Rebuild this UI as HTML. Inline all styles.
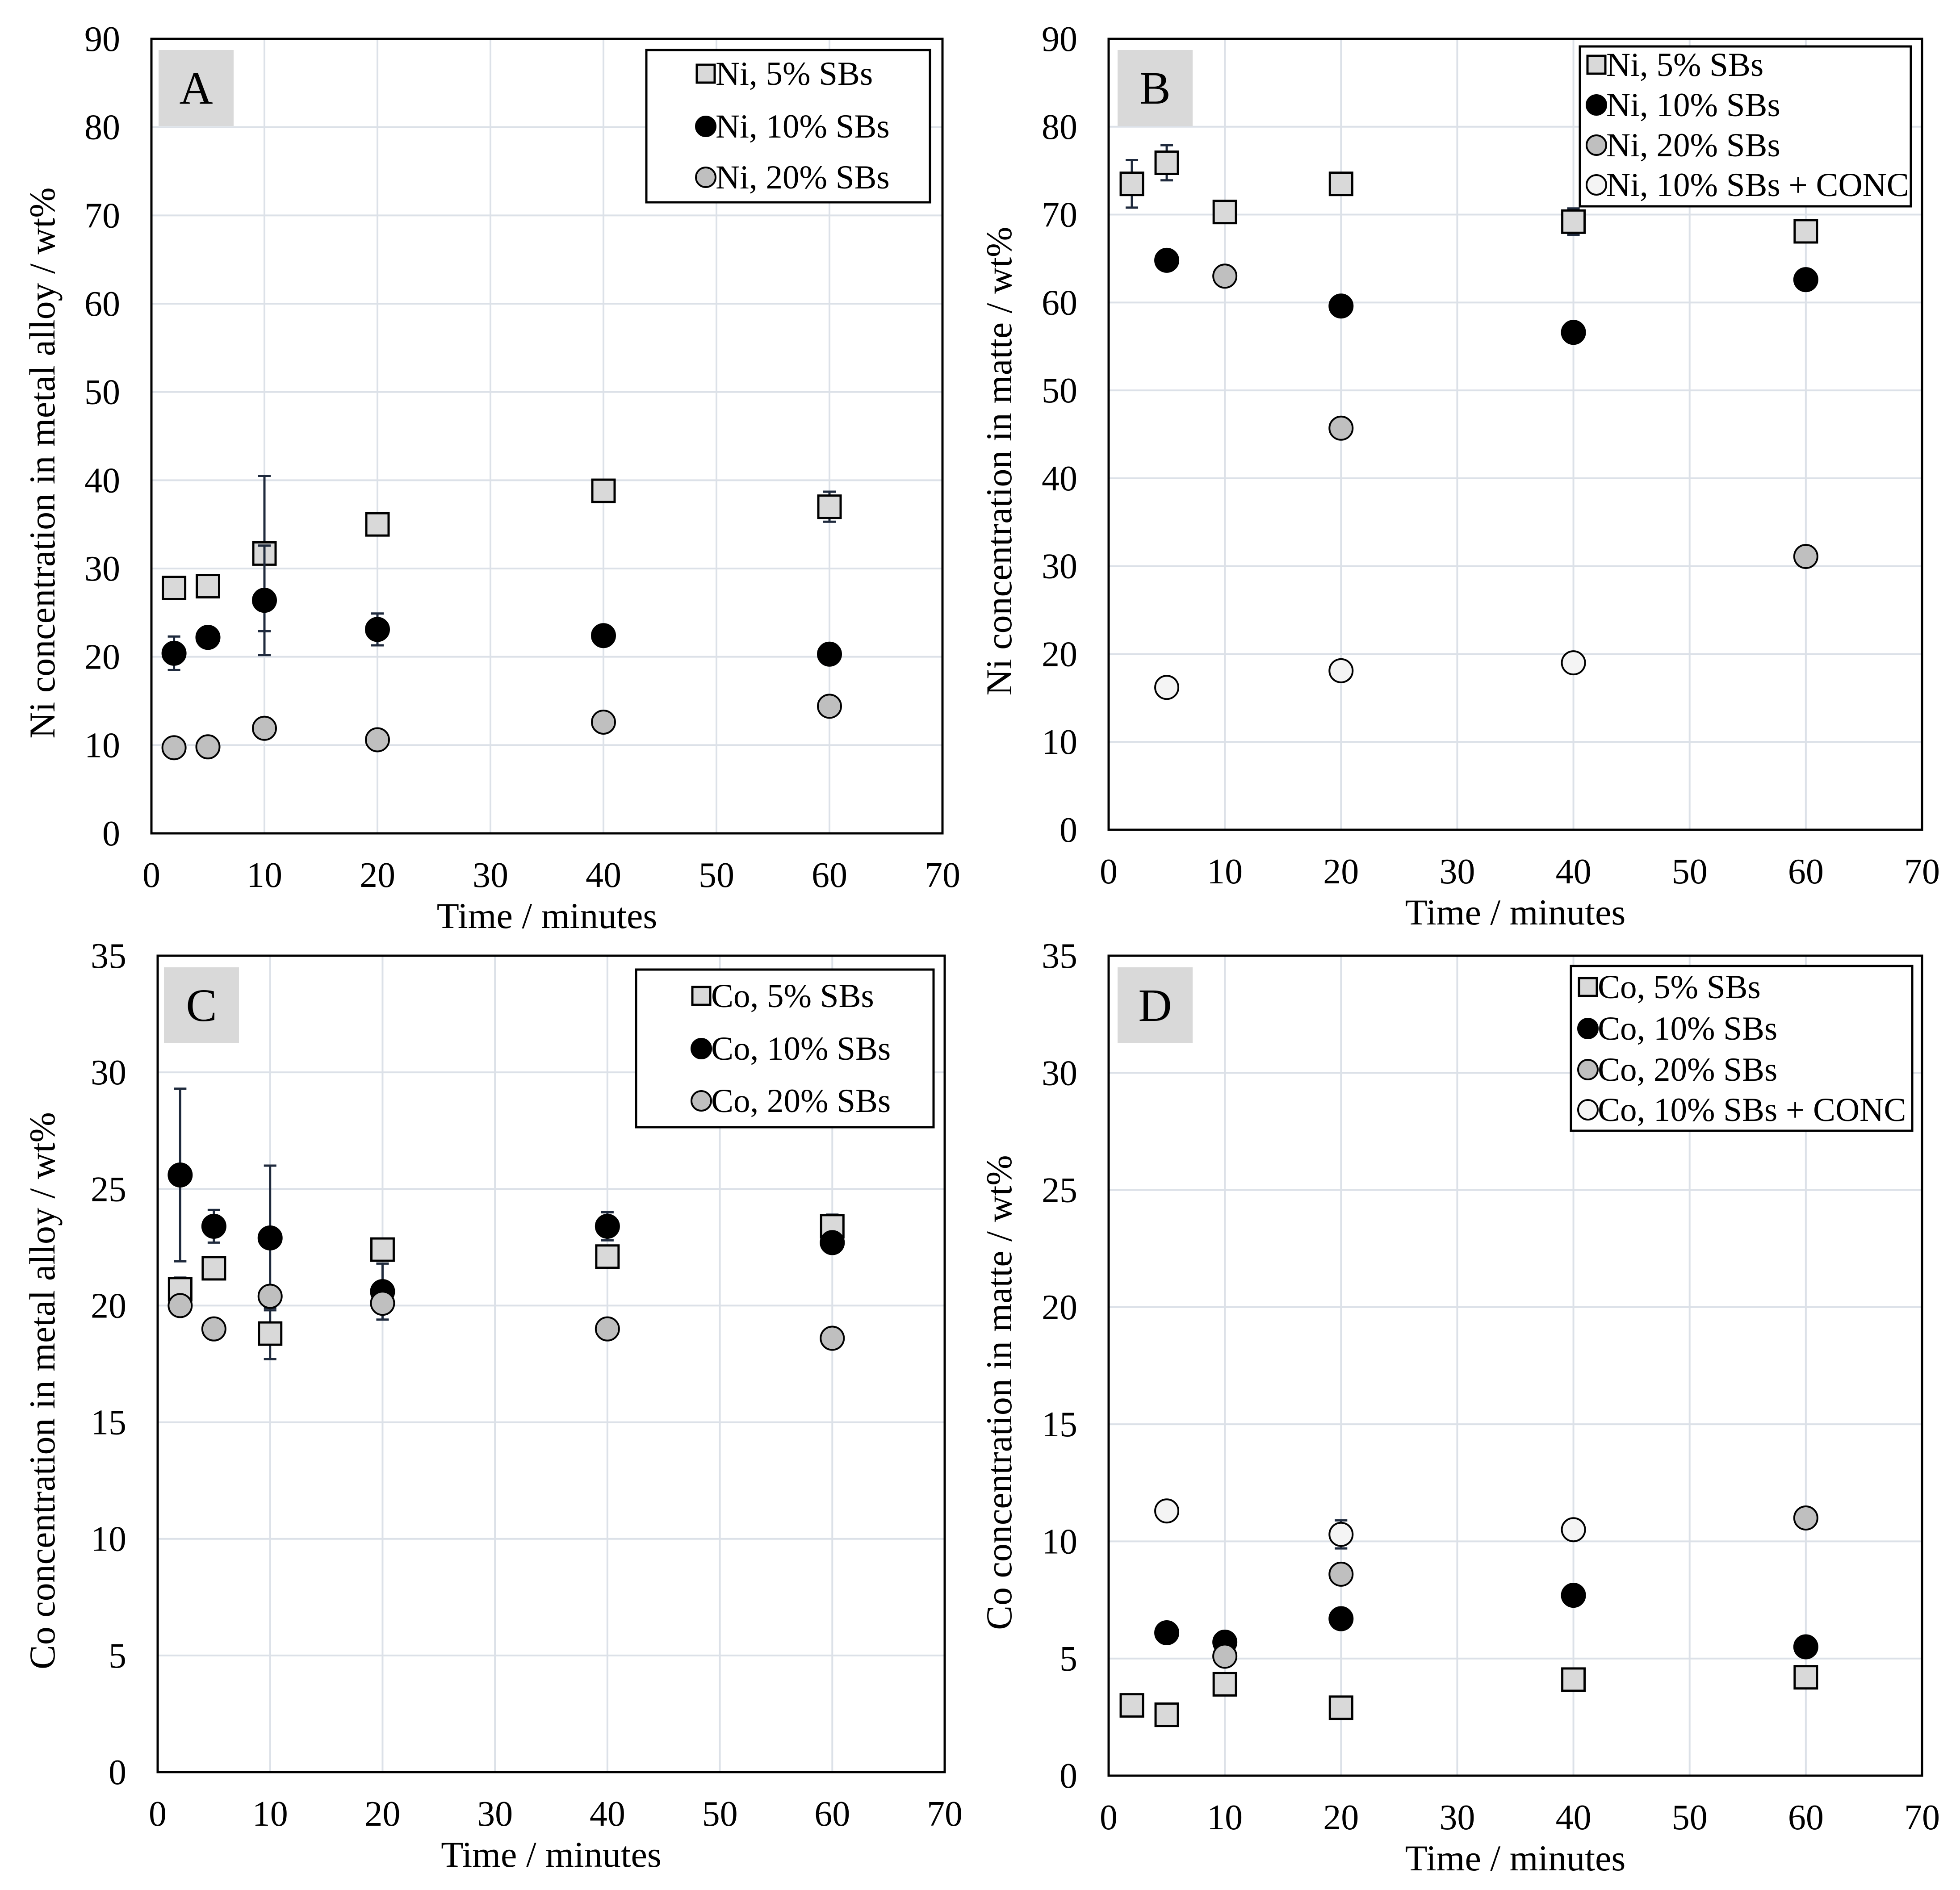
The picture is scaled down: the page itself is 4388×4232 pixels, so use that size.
<!DOCTYPE html>
<html><head><meta charset="utf-8">
<style>
body{margin:0;background:#fff;}
svg{display:block;font-family:"Liberation Serif","DejaVu Serif",serif;}
</style></head>
<body>
<svg id="chart" width="4388" height="4232" viewBox="0 0 4388 4232" xmlns="http://www.w3.org/2000/svg"></svg>
<script>
// ---- Data ----
const xTicks = [0,10,20,30,40,50,60,70];
const yTicksNi = [0,10,20,30,40,50,60,70,80,90];
const yTicksCo = [0,5,10,15,20,25,30,35];

// Panel A: Ni in metal alloy
const aX = [2,5,10,20,40,60];
const a5 = [27.8,28.0,31.7,35.0,38.8,37.0];
const a5err = [0,0,8.8,1.1,0.8,1.7];
const a10 = [20.4,22.2,26.4,23.1,22.4,20.3];
const a10err = [1.9,0,6.2,1.8,0,0];
const a20 = [9.7,9.8,11.9,10.6,12.6,14.4];

// Panel B: Ni in matte
const b5X = [2,5,10,20,40,60];
const b5 = [73.5,75.9,70.3,73.5,69.2,68.1];
const b5err = [2.7,2.0,0.8,0.6,1.5,0];
const b10X = [5,20,40,60];
const b10 = [64.8,59.6,56.6,62.6];
const b20X = [10,20,60];
const b20 = [63.0,45.7,31.1];
const bcX = [5,20,40];
const bc = [16.2,18.1,19.0];

// Panel C: Co in metal alloy
const cX = [2,5,10,20,40,60];
const c5 = [20.7,21.6,18.8,22.4,22.1,23.4];
const c5err = [0.5,0,1.1,0,0,0.5];
const c10 = [25.6,23.4,22.9,20.6,23.4,22.7];
const c10err = [3.7,0.7,3.1,1.2,0.6,0];
const c20 = [20.0,19.0,20.4,20.1,19.0,18.6];

// Panel D: Co in matte
const d5X = [2,5,10,20,40,60];
const d5 = [3.0,2.6,3.9,2.9,4.1,4.2];
const d10X = [5,10,20,40,60];
const d10 = [6.1,5.7,6.7,7.7,5.5];
const d20X = [10,20,60];
const d20 = [5.1,8.6,11.0];
const dcX = [5,20,40];
const dc = [11.3,10.3,10.5];
const dcErr = [0,0.6,0];

const NS = "http://www.w3.org/2000/svg";
const svg = document.getElementById('chart');
function mk(tag, attrs, parent){
  const e = document.createElementNS(NS, tag);
  for (const k in attrs) e.setAttribute(k, attrs[k]);
  (parent||svg).appendChild(e);
  return e;
}
const FILL = {sq:'#d9d9d9', blk:'#000', gry:'#bfbfbf', wht:'#f4f4f4'};

function marker(g, type, cx, cy, name){
  let e;
  if (type==='sq'){
    e = mk('rect',{x:cx-25,y:cy-25,width:50,height:50,fill:FILL.sq,stroke:'#000','stroke-width':5},g);
  } else {
    e = mk('circle',{cx:cx,cy:cy,r:26,fill:FILL[type],stroke:'#000','stroke-width':4},g);
  }
  
  
}

function panel(p){
  const g = mk('g',{});
  
  
  const sx = v => p.x0 + (v-0)/70*(p.x1-p.x0);
  const sy = v => p.y1 - v/p.ymax*(p.y1-p.y0);
  xTicks.forEach(t=>{ if(t>0&&t<70){ const l=mk('line',{x1:sx(t),x2:sx(t),y1:p.y0,y2:p.y1,stroke:'#dce1e8','stroke-width':4},g);
      }});
  p.yt.forEach(t=>{ if(t>0&&t<p.ymax){ const l=mk('line',{x1:p.x0,x2:p.x1,y1:sy(t),y2:sy(t),stroke:'#dce1e8','stroke-width':4},g);
      }});
  const fr = mk('rect',{x:p.x0,y:p.y0,width:p.x1-p.x0,height:p.y1-p.y0,fill:'none',stroke:'#000','stroke-width':5},g);
   
  xTicks.forEach(t=>{ const e=mk('text',{x:sx(t),y:p.y1+120,'font-size':80,'text-anchor':'middle'},g); e.textContent=t;
      });
  p.yt.forEach(t=>{ const e=mk('text',{x:p.x0-70,y:sy(t)+27,'font-size':80,'text-anchor':'end'},g); e.textContent=t;
      });
  const xt = mk('text',{x:(p.x0+p.x1)/2,y:p.y1+212,'font-size':82,'text-anchor':'middle'},g);
  xt.textContent='Time / minutes';
   
  const cy=(p.y0+p.y1)/2+60;
  const yt = mk('text',{x:p.ytx,y:cy,'font-size':82,'text-anchor':'middle',transform:`rotate(-90 ${p.ytx} ${cy})`},g);
  yt.textContent=p.ytitle;
   
  const lb = mk('rect',{x:p.lx,y:p.ly,width:168,height:170,fill:'#d9d9d9'},g);
   
  const lt = mk('text',{x:p.lx+84,y:p.ly+120,'font-size':104,'text-anchor':'middle'},g);
  lt.textContent=p.id;
   
  p.series.forEach(s=>{
    const sg = mk('g',{},g);
    
    
    s.xs.forEach((xv,i)=>{
      const e = s.err ? s.err[i] : 0;
      if (e>0){
        const X=sx(xv), top=sy(s.ys[i]+e), bot=sy(s.ys[i]-e);
        const eb = mk('path',{d:`M${X},${top}V${bot}M${X-14},${top}H${X+14}M${X-14},${bot}H${X+14}`,stroke:'#1f2a3d','stroke-width':5,fill:'none'},sg);
         
      }
    });
    s.xs.forEach((xv,i)=>marker(sg,s.type,sx(xv),sy(s.ys[i]),'point-'+s.key));
  });
  const L=p.leg;
  const lg = mk('g',{},g);
   
  mk('rect',{x:L.x,y:L.y,width:L.w,height:L.h,fill:'#fff',stroke:'#000','stroke-width':5},lg);
  p.series.forEach((s,i)=>{
    const ey=L.ys[i];
    const eg = mk('g',{},lg);
     
    const mx=L.mx;
    if(s.type==='sq') mk('rect',{x:mx-20,y:ey-20,width:40,height:40,fill:FILL.sq,stroke:'#000','stroke-width':5},eg);
    else mk('circle',{cx:mx,cy:ey,r:22,fill:FILL[s.type],stroke:'#000','stroke-width':4},eg);
    const t=mk('text',{x:mx+22,y:ey+25,'font-size':75},eg);
    t.textContent=s.label;
  });
}

panel({id:'A',x0:339,x1:2110,y0:87,y1:1866,ymax:90,yt:yTicksNi,ytx:122,
  ytitle:'Ni concentration in metal alloy / wt%',lx:355,ly:112,
  leg:{x:1447,y:112,w:635,h:341,mx:1580,ys:[165,283,397]},
  series:[
    {key:'ni-5',type:'sq',xs:aX,ys:a5,err:a5err,label:'Ni, 5% SBs'},
    {key:'ni-10',type:'blk',xs:aX,ys:a10,err:a10err,label:'Ni, 10% SBs'},
    {key:'ni-20',type:'gry',xs:aX,ys:a20,label:'Ni, 20% SBs'}]});

panel({id:'B',x0:2482,x1:4303,y0:87,y1:1858,ymax:90,yt:yTicksNi,ytx:2264,
  ytitle:'Ni concentration in matte / wt%',lx:2502,ly:112,
  leg:{x:3537,y:104,w:741,h:358,mx:3574,ys:[145,235,325,414]},
  series:[
    {key:'ni-5',type:'sq',xs:b5X,ys:b5,err:b5err,label:'Ni, 5% SBs'},
    {key:'ni-10',type:'blk',xs:b10X,ys:b10,label:'Ni, 10% SBs'},
    {key:'ni-20',type:'gry',xs:b20X,ys:b20,label:'Ni, 20% SBs'},
    {key:'ni-10-conc',type:'wht',xs:bcX,ys:bc,label:'Ni, 10% SBs + CONC'}]});

panel({id:'C',x0:353,x1:2115,y0:2140,y1:3968,ymax:35,yt:yTicksCo,ytx:122,
  ytitle:'Co concentration in metal alloy / wt%',lx:367,ly:2166,
  leg:{x:1424,y:2171,w:666,h:353,mx:1570,ys:[2230,2348,2465]},
  series:[
    {key:'co-5',type:'sq',xs:cX,ys:c5,err:c5err,label:'Co, 5% SBs'},
    {key:'co-10',type:'blk',xs:cX,ys:c10,err:c10err,label:'Co, 10% SBs'},
    {key:'co-20',type:'gry',xs:cX,ys:c20,label:'Co, 20% SBs'}]});

panel({id:'D',x0:2482,x1:4303,y0:2140,y1:3976,ymax:35,yt:yTicksCo,ytx:2264,
  ytitle:'Co concentration in matte / wt%',lx:2502,ly:2166,
  leg:{x:3517,y:2163,w:764,h:369,mx:3555,ys:[2210,2303,2395,2485]},
  series:[
    {key:'co-5',type:'sq',xs:d5X,ys:d5,label:'Co, 5% SBs'},
    {key:'co-10',type:'blk',xs:d10X,ys:d10,label:'Co, 10% SBs'},
    {key:'co-20',type:'gry',xs:d20X,ys:d20,label:'Co, 20% SBs'},
    {key:'co-10-conc',type:'wht',xs:dcX,ys:dc,err:dcErr,label:'Co, 10% SBs + CONC'}]});
</script>
</body></html>
